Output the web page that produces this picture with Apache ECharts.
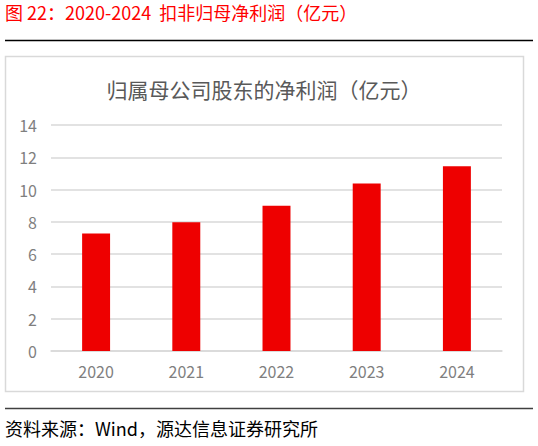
<!DOCTYPE html>
<html>
<head>
<meta charset="utf-8">
<script src="https://cdn.jsdelivr.net/npm/echarts@6/dist/echarts.min.js"></script>
<style>
  html, body { margin: 0; padding: 0; background: #fff; }
  #main { width: 538px; height: 446px; }
</style>
</head>
<body>
<div id="main"></div>
<script>
var years = ['2020', '2021', '2022', '2023', '2024'];
var profit = [7.28, 7.97, 9.0, 10.38, 11.44];
var yTicks = { min: 0, max: 14, interval: 2 };

var figTitle = '图 22：2020-2024  扣非归母净利润（亿元）';
var chartTitle = '归属母公司股东的净利润（亿元）';
var source = '资料来源：Wind，源达信息证券研究所';

var font = '"Noto Sans CJK SC", "Noto Sans", sans-serif';

var myChart = echarts.init(document.getElementById('main'), null, { renderer: 'svg' });
var option = {
    backgroundColor: '#fff',
    animation: false,
    textStyle: { fontFamily: font },
    title: {
        text: chartTitle,
        left: 259,
        textAlign: 'center',
        top: 73,
        textStyle: { fontSize: 21, fontWeight: 'normal', color: '#595959', fontFamily: font }
    },
    grid: { left: 51, right: 36, top: 125, bottom: 95 },
    xAxis: {
        type: 'category',
        data: years,
        axisLine: { lineStyle: { color: '#d9d9d9', width: 1.5 } },
        axisTick: { show: false },
        axisLabel: { color: '#7f7f7f', fontSize: 16, margin: 12, fontFamily: font }
    },
    yAxis: {
        type: 'value',
        min: yTicks.min,
        max: yTicks.max,
        interval: yTicks.interval,
        axisLine: { show: false },
        axisTick: { show: false },
        splitLine: { lineStyle: { color: '#d9d9d9', width: 1.5 } },
        axisLabel: { color: '#7f7f7f', fontSize: 16, margin: 14, fontFamily: font }
    },
    series: [{
        type: 'bar',
        data: profit,
        barWidth: '31%',
        itemStyle: { color: '#ee0000' }
    }],
    graphic: [
        {
            type: 'text', left: 5, top: 3,
            style: { text: figTitle, fill: '#ff0000', fontSize: 18, fontFamily: font }
        },
        {
            type: 'line', shape: { x1: 5, y1: 40.5, x2: 533, y2: 40.5 },
            style: { stroke: '#000', lineWidth: 1.5 }
        },
        {
            type: 'rect', shape: { x: 5.5, y: 56.5, width: 518, height: 335 },
            style: { fill: 'none', stroke: '#d9d9d9', lineWidth: 1.5 }, z: -1
        },
        {
            type: 'line', shape: { x1: 5, y1: 408.5, x2: 533, y2: 408.5 },
            style: { stroke: '#404040', lineWidth: 1.5 }
        },
        {
            type: 'text', left: 5, top: 419,
            style: { text: source, fill: '#000', fontSize: 18, fontFamily: font }
        }
    ]
};
myChart.setOption(option, true);
</script>
</body>
</html>
